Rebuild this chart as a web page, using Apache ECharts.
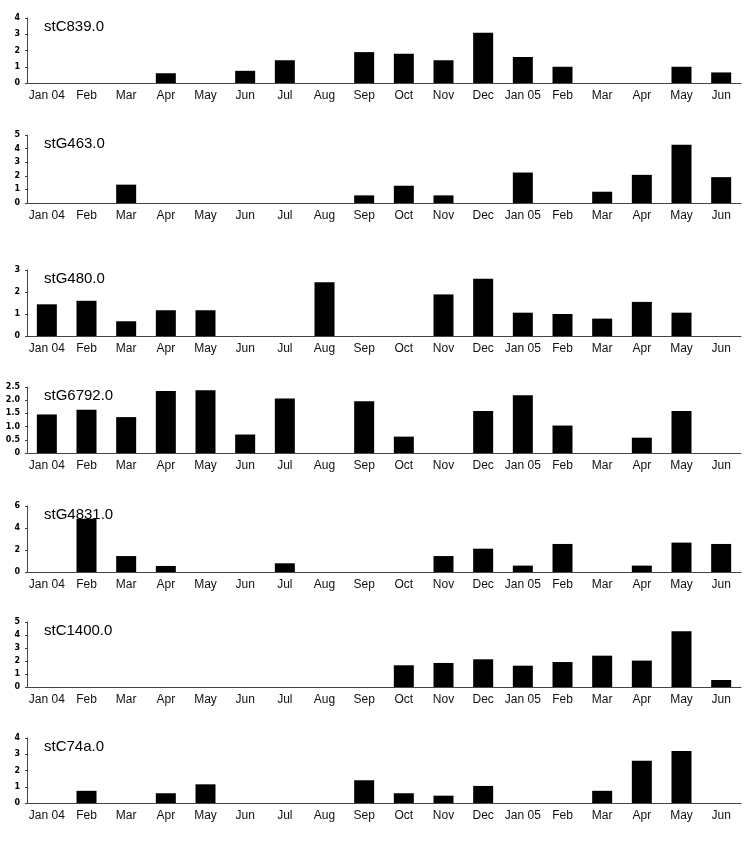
<!DOCTYPE html>
<html>
<head>
<meta charset="utf-8">
<script src="https://cdn.jsdelivr.net/npm/echarts@6/dist/echarts.min.js"></script>
<style>
html,body{margin:0;padding:0;background:#fff;}
#chart{width:750px;height:844px;}
</style>
</head>
<body>
<div id="chart"></div>
<script>
var months = ['Jan 04','Feb','Mar','Apr','May','Jun','Jul','Aug','Sep','Oct','Nov','Dec','Jan 05','Feb','Mar','Apr','May','Jun'];

var panelNames = ['stC839.0','stG463.0','stG480.0','stG6792.0','stG4831.0','stC1400.0','stC74a.0'];

var stC839 =  [0,0,0,0.6,0,0.75,1.4,0,1.9,1.8,1.4,3.1,1.6,1.0,0,0,1.0,0.65];
var stG463 =  [0,0,1.35,0,0,0,0,0,0.56,1.27,0.56,0,2.24,0,0.83,2.07,4.29,1.9];
var stG480 =  [1.44,1.6,0.67,1.17,1.17,0,0,2.44,0,0,1.89,2.6,1.06,1.0,0.79,1.55,1.06,0];
var stG6792 = [1.46,1.64,1.36,2.35,2.38,0.7,2.06,0,1.96,0.62,0,1.59,2.19,1.04,0,0.58,1.59,0];
var stG4831 = [0,4.85,1.45,0.55,0,0,0.79,0,0,0,1.45,2.12,0.58,2.55,0,0.58,2.67,2.55];
var stC1400 = [0,0,0,0,0,0,0,0,0,1.67,1.85,2.13,1.64,1.92,2.41,2.03,4.28,0.54];
var stC74a =  [0,0.75,0,0.6,1.15,0,0,0,1.4,0.6,0.45,1.05,0,0,0.75,2.6,3.2,0];

var yMax = [4,5,3,2.5,6,5,4];
var yInterval = [1,1,1,0.5,2,1,1];

var panelData = [stC839,stG463,stG480,stG6792,stG4831,stC1400,stC74a];

var gridTops = [18,135,270,387,506,622,738];
var gridHeights = [65,68,66,66,66,65,65];

var grids=[],xAxes=[],yAxes=[],series=[],titles=[];
for (var i=0;i<7;i++){
  grids.push({left:27,right:9,top:gridTops[i],height:gridHeights[i]});
  titles.push({text:panelNames[i],left:39,top:gridTops[i]-4,
    textStyle:{fontFamily:'Liberation Sans',fontSize:15,fontWeight:'normal',color:'#000'}});
  xAxes.push({type:'category',gridIndex:i,data:months,
    axisLine:{lineStyle:{color:'#444',width:1}},
    axisTick:{show:false},
    axisLabel:{interval:0,fontFamily:'Liberation Sans',fontSize:12,color:'#111',margin:7}});
  (function(idx){
  yAxes.push({type:'value',gridIndex:idx,min:0,max:yMax[idx],interval:yInterval[idx],
    axisLine:{show:true,lineStyle:{color:'#444',width:1}},
    axisTick:{show:true,length:2,lineStyle:{color:'#444'}},
    splitLine:{show:false},
    axisLabel:{fontFamily:'DejaVu Sans',fontSize:8,fontWeight:'bold',color:'#000',margin:7,
      formatter:function(v){ if(v===0) return '0'; return yInterval[idx]<1 ? v.toFixed(1) : String(v);} }});
  })(i);
  series.push({type:'bar',xAxisIndex:i,yAxisIndex:i,data:panelData[i],barWidth:20,
    itemStyle:{color:'#000'},animation:false,silent:true});
}

var chart = echarts.init(document.getElementById('chart'));
chart.setOption({
  animation:false,
  backgroundColor:'#fff',
  title:titles,
  grid:grids,
  xAxis:xAxes,
  yAxis:yAxes,
  series:series
});
</script>
</body>
</html>
